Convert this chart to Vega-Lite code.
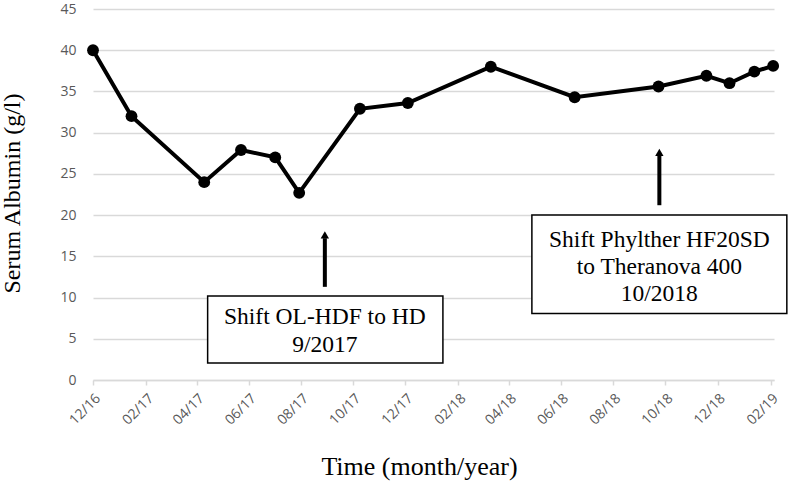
{
  "$schema": "https://vega.github.io/schema/vega-lite/v6.json",
  "width": 681,
  "height": 371,
  "autosize": "none",
  "padding": {"left": 93, "top": 9, "right": 14, "bottom": 102},
  "background": "white",
  "config": {"view": {"stroke": null}},
  "datasets": {
    "series": [
      {"date": "2016-12-01", "albumin": 40.0},
      {"date": "2017-01-15", "albumin": 32.0},
      {"date": "2017-04-10", "albumin": 24.0},
      {"date": "2017-05-23", "albumin": 27.9},
      {"date": "2017-07-02", "albumin": 27.0},
      {"date": "2017-07-30", "albumin": 22.7},
      {"date": "2017-10-09", "albumin": 32.9},
      {"date": "2017-12-04", "albumin": 33.6},
      {"date": "2018-03-11", "albumin": 38.0},
      {"date": "2018-06-17", "albumin": 34.3},
      {"date": "2018-09-23", "albumin": 35.6},
      {"date": "2018-11-18", "albumin": 36.9},
      {"date": "2018-12-15", "albumin": 36.0},
      {"date": "2019-01-13", "albumin": 37.4},
      {"date": "2019-02-04", "albumin": 38.1}
    ],
    "boxes": [
      {"d1": "2017-04-14", "d2": "2018-01-14", "v1": 2.05, "v2": 10.2},
      {"d1": "2018-04-28", "d2": "2019-02-20", "v1": 8.06, "v2": 20.0}
    ],
    "labels": [
      {"date": "2017-08-29", "v": 7.6, "text": "Shift OL-HDF to HD"},
      {"date": "2017-08-29", "v": 4.2, "text": "9/2017"},
      {"date": "2018-09-24", "v": 17.0, "text": "Shift Phylther HF20SD"},
      {"date": "2018-09-24", "v": 13.7, "text": "to Theranova 400"},
      {"date": "2018-09-24", "v": 10.4, "text": "10/2018"}
    ],
    "arrows": [
      {"date": "2017-08-29", "base": 11.3, "shaft": 17.2, "tip": 17.6},
      {"date": "2018-09-24", "base": 21.2, "shaft": 27.2, "tip": 27.6}
    ]
  },
  "layer": [
    {
      "data": {"name": "series"},
      "mark": {"type": "line", "color": "black", "strokeWidth": 4},
      "encoding": {
        "x": {
          "field": "date", "type": "temporal",
          "scale": {"type": "utc", "domain": [{"year": 2016, "month": 12, "date": 1, "utc": true}, {"year": 2019, "month": 2, "date": 5, "utc": true}], "nice": false},
          "axis": {
            "values": [
              {"year": 2016, "month": 12, "date": 1, "utc": true},
              {"year": 2017, "month": 2, "date": 1, "utc": true},
              {"year": 2017, "month": 4, "date": 1, "utc": true},
              {"year": 2017, "month": 6, "date": 1, "utc": true},
              {"year": 2017, "month": 8, "date": 1, "utc": true},
              {"year": 2017, "month": 10, "date": 1, "utc": true},
              {"year": 2017, "month": 12, "date": 1, "utc": true},
              {"year": 2018, "month": 2, "date": 1, "utc": true},
              {"year": 2018, "month": 4, "date": 1, "utc": true},
              {"year": 2018, "month": 6, "date": 1, "utc": true},
              {"year": 2018, "month": 8, "date": 1, "utc": true},
              {"year": 2018, "month": 10, "date": 1, "utc": true},
              {"year": 2018, "month": 12, "date": 1, "utc": true},
              {"year": 2019, "month": 2, "date": 1, "utc": true}
            ],
            "format": "%m/%y",
            "labelAngle": -45,
            "labelFont": "Open Sans",
            "labelFontSize": 14,
            "labelColor": "#595959",
            "labelPadding": 6,
            "grid": false,
            "domainColor": "#d9d9d9",
            "domainWidth": 1.5,
            "tickColor": "#d9d9d9",
            "tickWidth": 1.5,
            "tickSize": 5,
            "title": "Time (month/year)",
            "titleFont": "Liberation Serif",
            "titleFontSize": 26,
            "titleFontWeight": "normal",
            "titleColor": "black",
            "titleX": 326,
            "titleY": 94,
            "titleBaseline": "alphabetic"
          }
        },
        "y": {
          "field": "albumin", "type": "quantitative",
          "scale": {"domain": [0, 45], "nice": false},
          "axis": {
            "values": [0, 5, 10, 15, 20, 25, 30, 35, 40, 45],
            "labelFont": "Open Sans",
            "labelFontSize": 14,
            "labelColor": "#595959",
            "labelPadding": 17,
            "ticks": false,
            "domain": false,
            "grid": true,
            "gridColor": "#d9d9d9",
            "gridWidth": 1.5,
            "title": "Serum Albumin (g/l)",
            "titleFont": "Liberation Serif",
            "titleFontSize": 24,
            "titleFontWeight": "normal",
            "titleColor": "black",
            "titleX": -81,
            "titleY": 184,
            "titleBaseline": "middle"
          }
        }
      }
    },
    {
      "data": {"name": "series"},
      "mark": {"type": "point", "filled": true, "color": "black", "size": 140, "opacity": 1},
      "encoding": {
        "x": {"field": "date", "type": "temporal"},
        "y": {"field": "albumin", "type": "quantitative"}
      }
    },
    {
      "data": {"name": "arrows"},
      "mark": {"type": "rule", "color": "black", "strokeWidth": 4},
      "encoding": {
        "x": {"field": "date", "type": "temporal"},
        "y": {"field": "base", "type": "quantitative"},
        "y2": {"field": "shaft"}
      }
    },
    {
      "data": {"name": "arrows"},
      "mark": {"type": "point", "shape": "triangle-up", "filled": true, "color": "black", "size": 70, "opacity": 1},
      "encoding": {
        "x": {"field": "date", "type": "temporal"},
        "y": {"field": "tip", "type": "quantitative"}
      }
    },
    {
      "data": {"name": "boxes"},
      "mark": {"type": "rect", "fill": "white", "stroke": "black", "strokeWidth": 1.5},
      "encoding": {
        "x": {"field": "d1", "type": "temporal"},
        "x2": {"field": "d2"},
        "y": {"field": "v1", "type": "quantitative"},
        "y2": {"field": "v2"}
      }
    },
    {
      "data": {"name": "labels"},
      "mark": {"type": "text", "font": "Liberation Serif", "fontSize": 23.5, "color": "black", "align": "center", "baseline": "middle"},
      "encoding": {
        "x": {"field": "date", "type": "temporal"},
        "y": {"field": "v", "type": "quantitative"},
        "text": {"field": "text"}
      }
    }
  ]
}
